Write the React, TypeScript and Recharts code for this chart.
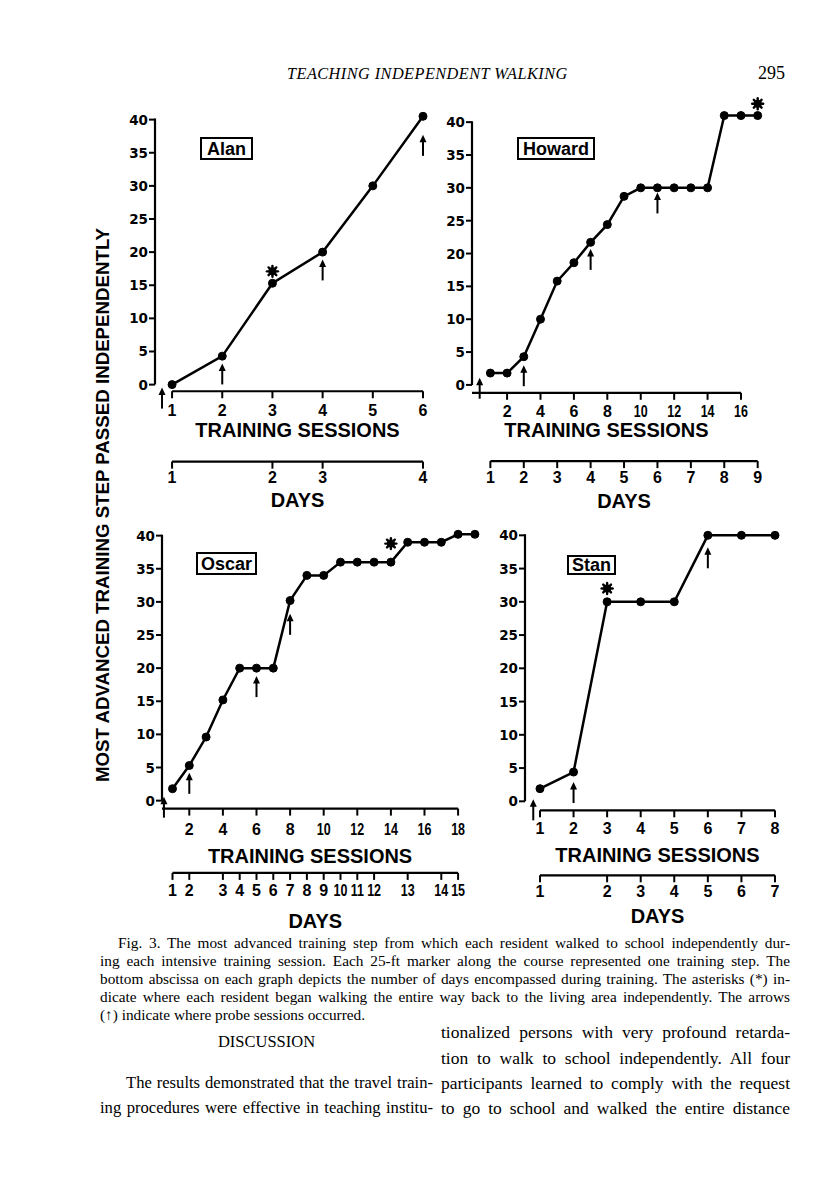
import React from 'react';
import { ComposedChart, Line, XAxis, YAxis, ReferenceDot } from 'recharts';

// shared ordinate
const stepTicks = [0, 5, 10, 15, 20, 25, 30, 35, 40];
const stepLabels = ['0', '5', '10', '15', '20', '25', '30', '35', '40'];

// Alan
const alanSessions = [1, 2, 3, 4, 5, 6];
const alanSteps = [0, 4.3, 15.3, 20, 30, 40.5];
const alanProbeSessions = [0.8, 2, 4, 6];
const alanProbeSteps = [-0.45, 3.2, 18.9, 37.7];
const alanStar = [3, 17.1];
const alanSessionTicks = [1, 2, 3, 4, 5, 6];
const alanSessionLabels = ['1', '2', '3', '4', '5', '6'];
const alanDayTicks = [1, 3, 4, 6];
const alanDayLabels = ['1', '2', '3', '4'];

// Howard
const howardSessions = [1, 2, 3, 4, 5, 6, 7, 8, 9, 10, 11, 12, 13, 14, 15, 16, 17];
const howardSteps = [1.8, 1.8, 4.3, 10, 15.8, 18.6, 21.7, 24.4, 28.7, 30, 30, 30, 30, 30, 41, 41, 41];
const howardProbeSessions = [0.36, 3, 7, 11];
const howardProbeSteps = [1.1, 3, 20.7, 29.3];
const howardStar = [17, 42.8];
const howardSessionTicks = [-0.1, 2, 4, 6, 8, 10, 12, 14, 16];
const howardSessionLabels = ['', '2', '4', '6', '8', '10', '12', '14', '16'];
const howardDayTicks = [1, 3, 5, 7, 9, 11, 13, 15, 17];
const howardDayLabels = ['1', '2', '3', '4', '5', '6', '7', '8', '9'];

// Oscar
const oscarSessions = [1, 2, 3, 4, 5, 6, 7, 8, 9, 10, 11, 12, 13, 14, 15, 16, 17, 18, 19];
const oscarSteps = [1.8, 5.3, 9.6, 15.2, 20, 20, 20, 30.2, 34, 34, 36, 36, 36, 36, 39, 39, 39, 40.2, 40.2];
const oscarProbeSessions = [0.49, 2, 6, 8];
const oscarProbeSteps = [0.6, 4.2, 18.8, 28.2];
const oscarStar = [14, 38.8];
const oscarSessionTicks = [0.375, 2, 4, 6, 8, 10, 12, 14, 16, 18];
const oscarSessionLabels = ['', '2', '4', '6', '8', '10', '12', '14', '16', '18'];
const oscarDayTicks = [1, 2, 4, 5, 6, 7, 8, 9, 10, 11, 12, 13, 15, 17, 18];
const oscarDayLabels = ['1', '2', '3', '4', '5', '6', '7', '8', '9', '10', '11', '12', '13', '14', '15'];

// Stan
const stanSessions = [1, 2, 3, 4, 5, 6, 7, 8];
const stanSteps = [1.9, 4.4, 30, 30, 30, 40, 40, 40];
const stanProbeSessions = [0.8, 2, 6];
const stanProbeSteps = [0.3, 2.9, 38.2];
const stanStar = [3, 32];
const stanSessionTicks = [1, 2, 3, 4, 5, 6, 7, 8];
const stanSessionLabels = ['1', '2', '3', '4', '5', '6', '7', '8'];
const stanDayTicks = [1, 3, 4, 5, 6, 7, 8];
const stanDayLabels = ['1', '2', '3', '4', '5', '6', '7'];

const captionLines = [
  'Fig. 3. The most advanced training step from which each resident walked to school independently dur-',
  'ing each intensive training session. Each 25-ft marker along the course represented one training step. The',
  'bottom abscissa on each graph depicts the number of days encompassed during training. The asterisks (*) in-',
  'dicate where each resident began walking the entire way back to the living area independently. The arrows',
  '(\u2191) indicate where probe sessions occurred.',
];

const SANS = '"Liberation Sans", Arial, sans-serif';
const SERIF = '"Liberation Serif", "Times New Roman", serif';
const M_TOP = 25;
const M_RIGHT = 25;
const Y_W = 60;
const DAYS_H = 60;

type Layout = {
  plotLeft: number; plotTop: number; plotW: number; plotH: number;
  xDomain: [number, number]; yDomain: [number, number];
  sessionsH: number; sessionsLabelDy: number; sessionsTitleDy: number;
  daysLabelDy: number; daysTitleDy: number;
};

// bottom axis tick: draws the tick, the label, and (on the last tick) the axis line and the title
function makeXTick(ticks: number[], labels: string[], labelDy: number, title: string, titleDy: number) {
  let firstX = 0;
  return (p: any) => {
    const { x, y, payload } = p;
    const i = ticks.indexOf(payload.value);
    if (i === 0) firstX = x;
    const label = labels[i] ?? '';
    const last = i === ticks.length - 1;
    // two-digit labels are set narrower, like the original lettering
    const squeeze = label.length > 1 ? `translate(${x},0) scale(0.78,1) translate(${-x},0)` : undefined;
    return (
      <g>
        {label !== '' && <line x1={x} y1={y} x2={x} y2={y + 7} stroke="#000" strokeWidth={2} />}
        {label !== '' && (
          <text x={x} y={y + labelDy} textAnchor="middle" dominantBaseline="central" transform={squeeze}
            fontFamily={SANS} fontWeight="bold" fontSize={16} fill="#000">{label}</text>
        )}
        {last && <line x1={firstX} y1={y} x2={x} y2={y} stroke="#000" strokeWidth={2.2} />}
        {last && (
          <text x={(firstX + x) / 2} y={y + titleDy} textAnchor="middle" dominantBaseline="central"
            fontFamily={SANS} fontWeight="bold" fontSize={20} fill="#000">{title}</text>
        )}
      </g>
    );
  };
}

function makeYTick(ticks: number[], labels: string[]) {
  let firstY = 0;
  return (p: any) => {
    const { x, y, payload } = p;
    const i = ticks.indexOf(payload.value);
    if (i === 0) firstY = y;
    const last = i === ticks.length - 1;
    return (
      <g>
        <line x1={x - 6} y1={y} x2={x} y2={y} stroke="#000" strokeWidth={2} />
        <text x={x - 7} y={y} textAnchor="end" dominantBaseline="central"
          fontFamily='"DejaVu Sans", sans-serif' fontWeight="bold" fontSize={13.5} fill="#000">{labels[i]}</text>
        {last && <line x1={x} y1={firstY} x2={x} y2={y - 1} stroke="#000" strokeWidth={2.2} />}
      </g>
    );
  };
}

const renderArrow = (p: any) => (
  <g>
    <line x1={p.cx} y1={p.cy + 5} x2={p.cx} y2={p.cy + 21} stroke="#000" strokeWidth={2} />
    <path d={`M${p.cx},${p.cy} L${p.cx - 3.5},${p.cy + 7.5} L${p.cx + 3.5},${p.cy + 7.5} Z`} fill="#000" />
  </g>
);

const renderStar = (p: any) => (
  <g stroke="#000" strokeWidth={2.4} strokeLinecap="round">
    {[0, 45, 90, 135].map((a) => {
      const r = (a * Math.PI) / 180;
      const dx = Math.cos(r) * 5.5;
      const dy = Math.sin(r) * 5.5;
      return <line key={a} x1={p.cx - dx} y1={p.cy - dy} x2={p.cx + dx} y2={p.cy + dy} />;
    })}
    <circle cx={p.cx} cy={p.cy} r={2.8} fill="#000" />
  </g>
);

type PanelProps = {
  layout: Layout;
  sessions: number[]; steps: number[];
  probeSessions: number[]; probeSteps: number[];
  star: number[];
  sessionTicks: number[]; sessionLabels: string[];
  dayTicks: number[]; dayLabels: string[];
};

function Panel(props: PanelProps) {
  const { layout: L } = props;
  const data = props.sessions.map((s, i) => ({ x: s, y: props.steps[i] }));
  const width = Y_W + L.plotW + M_RIGHT;
  const height = M_TOP + L.plotH + L.sessionsH + DAYS_H;
  return (
    <div style={{ position: 'absolute', left: L.plotLeft - Y_W, top: L.plotTop - M_TOP }}>
      <ComposedChart width={width} height={height} margin={{ top: M_TOP, right: M_RIGHT, bottom: 0, left: 0 }}>
        <XAxis dataKey="x" type="number" domain={L.xDomain} ticks={props.sessionTicks} interval={0}
          height={L.sessionsH} axisLine={false} tickLine={false} tickSize={0} tickMargin={0}
          tick={makeXTick(props.sessionTicks, props.sessionLabels, L.sessionsLabelDy, 'TRAINING SESSIONS', L.sessionsTitleDy)} />
        <XAxis xAxisId="days" dataKey="x" type="number" domain={L.xDomain} ticks={props.dayTicks} interval={0}
          height={DAYS_H} axisLine={false} tickLine={false} tickSize={0} tickMargin={0}
          tick={makeXTick(props.dayTicks, props.dayLabels, L.daysLabelDy, 'DAYS', L.daysTitleDy)} />
        <YAxis type="number" domain={L.yDomain} ticks={stepTicks} interval={0} width={Y_W}
          axisLine={false} tickLine={false} tickSize={0} tickMargin={0}
          tick={makeYTick(stepTicks, stepLabels)} />
        {/* same series on the day abscissa, not drawn, so that axis gets its scale */}
        <Line xAxisId="days" data={data} dataKey="y" stroke="none" dot={false} activeDot={false}
          isAnimationActive={false} />
        <Line data={data} dataKey="y" type="linear" stroke="#000" strokeWidth={2.5}
          dot={{ r: 4, fill: '#000', stroke: '#000', strokeWidth: 1 }} isAnimationActive={false} />
        {props.probeSessions.map((s, i) => (
          <ReferenceDot key={i} x={s} y={props.probeSteps[i]} ifOverflow="visible" shape={renderArrow} />
        ))}
        <ReferenceDot x={props.star[0]} y={props.star[1]} ifOverflow="visible" shape={renderStar} />
      </ComposedChart>
    </div>
  );
}

function NameBox({ name, left, top, w, h }: { name: string; left: number; top: number; w: number; h: number }) {
  return (
    <div style={{
      position: 'absolute', left, top, width: w, height: h, boxSizing: 'border-box',
      border: '2px solid #000', display: 'flex', alignItems: 'center', justifyContent: 'center',
      fontFamily: SANS, fontWeight: 'bold', fontSize: 18, lineHeight: 1, color: '#000',
    }}>{name}</div>
  );
}

const alanLayout: Layout = {
  plotLeft: 155, plotTop: 113.4, plotW: 268, plotH: 278.25, xDomain: [0.66, 6], yDomain: [-1, 41],
  sessionsH: 70.4, sessionsLabelDy: 19.4, sessionsTitleDy: 38.4, daysLabelDy: 16, daysTitleDy: 38,
};
const howardLayout: Layout = {
  plotLeft: 472, plotTop: 108.6, plotW: 285.7, plotH: 283.8, xDomain: [-0.1, 17], yDomain: [-1.2, 42],
  sessionsH: 68.3, sessionsLabelDy: 18.6, sessionsTitleDy: 37.6, daysLabelDy: 16.8, daysTitleDy: 39.8,
};
const oscarLayout: Layout = {
  plotLeft: 162, plotTop: 529.4, plotW: 312.9, plotH: 279.6, xDomain: [0.375, 19], yDomain: [-1.2, 41],
  sessionsH: 64.3, sessionsLabelDy: 21, sessionsTitleDy: 47, daysLabelDy: 17.7, daysTitleDy: 48.2,
};
const stanLayout: Layout = {
  plotLeft: 525, plotTop: 531.7, plotW: 250, plotH: 278.3, xDomain: [0.554, 8], yDomain: [-1.35, 40.5],
  sessionsH: 65, sessionsLabelDy: 18, sessionsTitleDy: 45, daysLabelDy: 16.5, daysTitleDy: 40.5,
};

export default function App() {
  return (
    <div style={{ position: 'absolute', left: 0, top: 0, width: 816, height: 1195, background: '#fff', overflow: 'hidden', color: '#000' }}>
      <div style={{ position: 'absolute', left: 287, top: 64, fontFamily: SERIF, fontStyle: 'italic', fontSize: 16.3, letterSpacing: 0.45, whiteSpace: 'nowrap' }}>
        TEACHING INDEPENDENT WALKING
      </div>
      <div style={{ position: 'absolute', left: 758, top: 63, fontFamily: SERIF, fontSize: 18, whiteSpace: 'nowrap' }}>295</div>

      <Panel layout={alanLayout} sessions={alanSessions} steps={alanSteps}
        probeSessions={alanProbeSessions} probeSteps={alanProbeSteps} star={alanStar}
        sessionTicks={alanSessionTicks} sessionLabels={alanSessionLabels}
        dayTicks={alanDayTicks} dayLabels={alanDayLabels} />
      <Panel layout={howardLayout} sessions={howardSessions} steps={howardSteps}
        probeSessions={howardProbeSessions} probeSteps={howardProbeSteps} star={howardStar}
        sessionTicks={howardSessionTicks} sessionLabels={howardSessionLabels}
        dayTicks={howardDayTicks} dayLabels={howardDayLabels} />
      <Panel layout={oscarLayout} sessions={oscarSessions} steps={oscarSteps}
        probeSessions={oscarProbeSessions} probeSteps={oscarProbeSteps} star={oscarStar}
        sessionTicks={oscarSessionTicks} sessionLabels={oscarSessionLabels}
        dayTicks={oscarDayTicks} dayLabels={oscarDayLabels} />
      <Panel layout={stanLayout} sessions={stanSessions} steps={stanSteps}
        probeSessions={stanProbeSessions} probeSteps={stanProbeSteps} star={stanStar}
        sessionTicks={stanSessionTicks} sessionLabels={stanSessionLabels}
        dayTicks={stanDayTicks} dayLabels={stanDayLabels} />

      <NameBox name="Alan" left={200} top={137} w={53} h={23} />
      <NameBox name="Howard" left={517} top={137} w={78} h={23} />
      <NameBox name="Oscar" left={196} top={552} w={61} h={23} />
      <NameBox name="Stan" left={567} top={555} w={49} h={20} />

      <div style={{
        position: 'absolute', left: 103, top: 505, transform: 'translate(-50%, -50%) rotate(-90deg)',
        fontFamily: SANS, fontWeight: 'bold', fontSize: 18.7, whiteSpace: 'nowrap',
      }}>MOST ADVANCED TRAINING STEP PASSED INDEPENDENTLY</div>

      {captionLines.map((t, i) => (
        <div key={i} style={{
          position: 'absolute', left: i === 0 ? 118 : 100, top: 934 + i * 18, width: i === 0 ? 672 : 690,
          fontFamily: SERIF, fontSize: 15.3, lineHeight: '18px',
          textAlign: 'justify', textAlignLast: i < 4 ? 'justify' : 'left',
        }}>{t}</div>
      ))}

      <div style={{ position: 'absolute', left: 100, top: 1031, width: 333, textAlign: 'center', fontFamily: SERIF, fontSize: 16.5, lineHeight: '22px' }}>DISCUSSION</div>
      {[
        { t: 'The results demonstrated that the travel train-', l: 126, w: 307, y: 1072, f: 16.6 },
        { t: 'ing procedures were effective in teaching institu-', l: 100, w: 333, y: 1097, f: 16.6 },
        { t: 'tionalized persons with very profound retarda-', l: 441, w: 349, y: 1021, f: 17.5 },
        { t: 'tion to walk to school independently. All four', l: 441, w: 349, y: 1047, f: 17.5 },
        { t: 'participants learned to comply with the request', l: 441, w: 349, y: 1072, f: 17.5 },
        { t: 'to go to school and walked the entire distance', l: 441, w: 349, y: 1097, f: 17.5 },
      ].map((r, i) => (
        <div key={i} style={{
          position: 'absolute', left: r.l, top: r.y, width: r.w, fontFamily: SERIF, fontSize: r.f,
          lineHeight: '22px', textAlign: 'justify', textAlignLast: 'justify',
        }}>{r.t}</div>
      ))}
    </div>
  );
}
